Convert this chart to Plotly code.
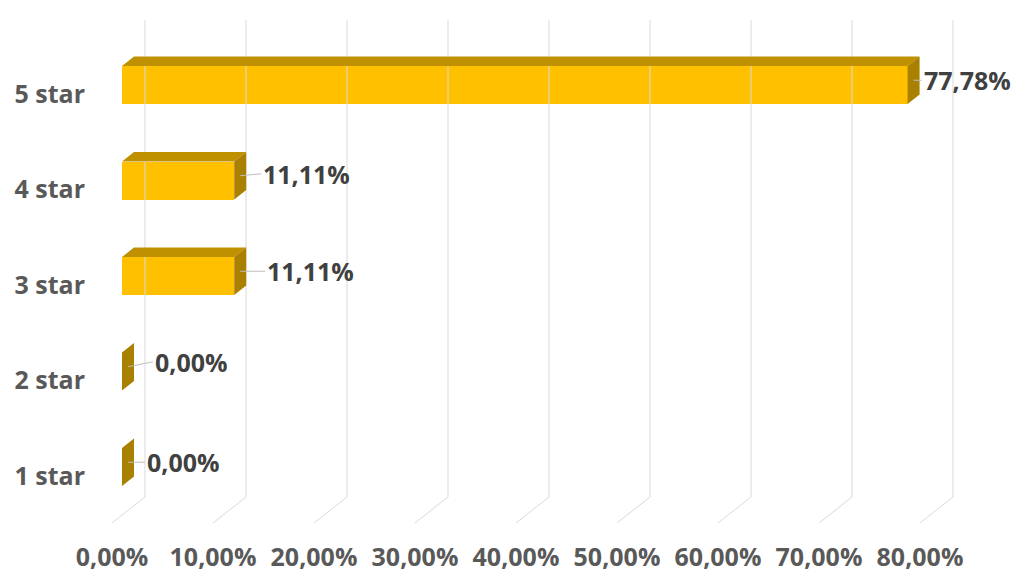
import plotly.graph_objects as go

# ---- data ----
categories = ["1 star", "2 star", "3 star", "4 star", "5 star"]
values = [0.00, 0.00, 11.11, 11.11, 77.78]          # percent
tick_values = [0, 10, 20, 30, 40, 50, 60, 70, 80]
tick_labels = ["0,00%", "10,00%", "20,00%", "30,00%", "40,00%",
               "50,00%", "60,00%", "70,00%", "80,00%"]
value_labels = [f"{v:.2f}".replace(".", ",") + "%" for v in values]

# ---- styling / geometry (pixels, page coordinates) ----
PAGE_OFF = 8       # default body margin of the html page
W, H = 1008, 572
ML, MR, MT, MB = 90, 0, 0, 40
PX_X = 10.1        # px per percent
PX_Y = 95.5        # px per category step
X0_PX = 122        # page px of 0% on bar front plane
Y0_PX = 467        # page px of category 0 centre
FRONT_COL = "#FFC000"
TOP_COL = "#BF9000"
SIDE_COL = "#A98000"
GRID_COL = "#D9D9D9"
TICK_COL = "#595959"
LABEL_COL = "#404040"
FONT = "Open Sans"

bar_h = 38 / PX_Y
dx = 12 / PX_X
dy = 9.5 / PX_Y
back_dx = 23 / PX_X
floor_dx = -10 / PX_X
grid_top = (Y0_PX - 20) / PX_Y
grid_back_bottom = (Y0_PX - 497) / PX_Y
grid_front_bottom = (Y0_PX - 523) / PX_Y
label_shift_px = [17, 25, 25, 21, 8]
label_yshift_px = [0, 5, 0, 2, 0]

xr = [(PAGE_OFF + ML - X0_PX) / PX_X, (PAGE_OFF + W - MR - X0_PX) / PX_X]
yr = [(Y0_PX - (PAGE_OFF + H - MB)) / PX_Y, (Y0_PX - (PAGE_OFF + MT)) / PX_Y]
pos = list(range(len(categories)))

fig = go.Figure()

# gridlines (back wall + floor)
gx, gy = [], []
for t in tick_values:
    gx += [t + back_dx, t + back_dx, t + floor_dx, None]
    gy += [grid_top, grid_back_bottom, grid_front_bottom, None]
fig.add_trace(go.Scatter(x=gx, y=gy, mode="lines",
                         line=dict(color=GRID_COL, width=1),
                         hoverinfo="skip", showlegend=False))

# front faces
fig.add_trace(go.Bar(x=values, y=pos, orientation="h", base=0,
                     width=bar_h, marker=dict(color=FRONT_COL, line=dict(width=0)),
                     showlegend=False, hoverinfo="skip"))

# top faces
tx, ty = [], []
for p, v in zip(pos, values):
    top = p + bar_h / 2
    tx += [0, v, v + dx, dx, 0, None]
    ty += [top, top, top + dy, top + dy, top, None]
fig.add_trace(go.Scatter(x=tx, y=ty, mode="lines", fill="toself",
                         fillcolor=TOP_COL, line=dict(width=0, color=TOP_COL),
                         hoverinfo="skip", showlegend=False))

# side faces
sx, sy = [], []
for p, v in zip(pos, values):
    top = p + bar_h / 2
    bot = p - bar_h / 2
    sx += [v, v, v + dx, v + dx, v, None]
    sy += [bot, top, top + dy, bot + dy, bot, None]
fig.add_trace(go.Scatter(x=sx, y=sy, mode="lines", fill="toself",
                         fillcolor=SIDE_COL, line=dict(width=0, color=SIDE_COL),
                         hoverinfo="skip", showlegend=False))

# data labels with leader lines
for p, v, txt, sh, ys in zip(pos, values, value_labels, label_shift_px, label_yshift_px):
    fig.add_annotation(x=v + dx / 2, y=p + dy / 2, xref="x", yref="y",
                       text=f"<b>{txt}</b>", showarrow=True, arrowhead=0,
                       arrowwidth=1, arrowcolor="#BFBFBF", standoff=0,
                       ax=sh, ay=-ys, xanchor="left", yanchor="middle",
                       font=dict(family=FONT, size=25, color=LABEL_COL))

fig.update_layout(
    width=W, height=H,
    margin=dict(l=ML, r=MR, t=MT, b=MB),
    paper_bgcolor="white", plot_bgcolor="white",
    bargap=0,
    font=dict(family=FONT, size=25, color=TICK_COL),
)
fig.update_xaxes(range=xr, tickvals=tick_values, ticktext=[f"<b>{t}</b>" for t in tick_labels],
                 showgrid=False, zeroline=False, showline=False, ticks="",
                 ticklabelshift=-10, tickfont=dict(family=FONT, size=25, color=TICK_COL),
                 fixedrange=True)
fig.update_yaxes(range=yr, tickvals=pos, ticktext=[f"<b>{c}</b>" for c in categories],
                 showgrid=False, zeroline=False, showline=False, ticks="",
                 ticklabelshift=9, ticklabelstandoff=12,
                 tickfont=dict(family=FONT, size=25, color=TICK_COL),
                 fixedrange=True)

fig.write_html("out.html")
